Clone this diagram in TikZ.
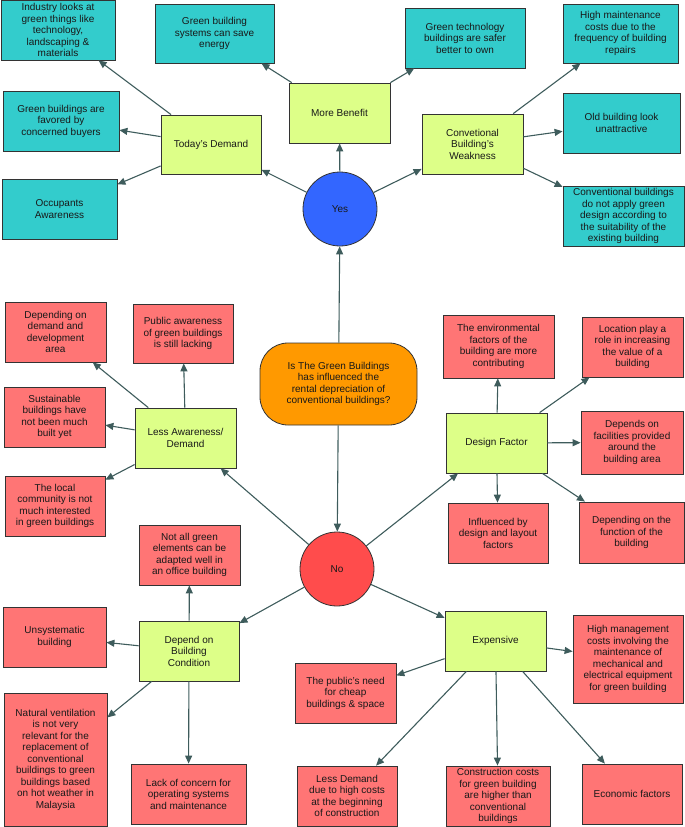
\documentclass[tikz,border=0pt]{standalone}
\usepackage{fontspec}
\setmainfont{Liberation Sans}
\usetikzlibrary{arrows.meta}
\definecolor{tealc}{HTML}{33CCCC}
\definecolor{yelc}{HTML}{DDFF88}
\definecolor{redc}{HTML}{FF7575}
\definecolor{bluec}{HTML}{3366FF}
\definecolor{noc}{HTML}{FF4C4C}
\definecolor{orc}{HTML}{FF9900}
\definecolor{linec}{HTML}{3E5C5C}
\definecolor{bordc}{HTML}{333333}
\tikzset{
  base/.style={draw=bordc, line width=0.8pt, align=center, inner sep=0pt,
    font=\fontsize{10}{11.5}\selectfont, text=black!90},
  tealbox/.style={base, fill=tealc},
  ybox/.style={base, fill=yelc},
  rbox/.style={base, fill=redc},
  circ/.style={base, circle, minimum size=74pt},
  conn/.style={draw=linec, line width=1.1pt, -{Triangle[length=8pt,width=7pt]}},
  sz/.style 2 args={minimum width=#1pt, minimum height=#2pt}
}
\begin{document}
\begin{tikzpicture}[x=1pt,y=-1pt]
\useasboundingbox (0,0) rectangle (685,827);
% Yes branch
\node[tealbox, sz={114}{60}] (ind) at (58,30) {Industry looks at\\green things like\\technology,\\landscaping \&\\materials};
\node[tealbox, sz={119}{59}] (gbs) at (214.5,33.5) {Green building\\systems can save\\energy};
\node[tealbox, sz={116}{60}] (fav) at (61,121) {Green buildings are\\favored by\\concerned buyers};
\node[tealbox, sz={115}{60}] (occ) at (59.5,209) {Occupants\\Awareness};
\node[tealbox, sz={120}{60}] (gt) at (465,38) {Green technology\\buildings are safer\\better to own};
\node[tealbox, sz={115}{59}] (hm) at (620.5,33.5) {High maintenance\\costs due to the\\frequency of building\\repairs};
\node[tealbox, sz={117}{60}] (old) at (621.5,123) {Old building look\\unattractive};
\node[tealbox, sz={121}{60}] (conv) at (623.5,216) {Conventional buildings\\do not apply green\\design according to\\the suitability of the\\existing building};
\node[ybox, sz={100}{59}] (td) at (211,144.5) {Today's Demand};
\node[ybox, sz={101}{60}] (mb) at (339.5,113) {More Benefit};
\node[ybox, sz={101}{60}] (cbw) at (472.5,144) {Convetional\\Building's\\Weakness};
\node[circ, fill=bluec] (yes) at (340,209) {Yes};
% Question
\node[base, fill=orc, rounded corners=28pt, sz={157}{82}] (q) at (338.5,384) {Is The Green Buildings\\has influenced the\\rental depreciation of\\conventional buildings?};
\node[circ, fill=noc] (no) at (337,569) {No};
% No branch
\node[ybox, sz={101}{60}] (la) at (185.5,438) {Less Awareness/\\Demand};
\node[ybox, sz={101}{60}] (df) at (496.5,443) {Design Factor};
\node[ybox, sz={100}{60}] (dbc) at (189,651) {Depend on\\Building\\Condition};
\node[ybox, sz={101}{60}] (exp) at (495.5,641) {Expensive};
\node[rbox, sz={101}{60}] (dda) at (55.5,332) {Depending on\\demand and\\development\\area};
\node[rbox, sz={100}{59}] (pub) at (183,333.5) {Public awareness\\of green buildings\\is still lacking};
\node[rbox, sz={101}{60}] (sus) at (54.5,417) {Sustainable\\buildings have\\not been much\\built yet};
\node[rbox, sz={100}{60}] (loc) at (55,506) {The local\\community is not\\much interested\\in green buildings};
\node[rbox, sz={101}{60}] (nag) at (189.5,555) {Not all green\\elements can be\\adapted well in\\an office building};
\node[rbox, sz={111}{63}] (env) at (498.5,346.5) {The environmental\\factors of the\\building are more\\contributing};
\node[rbox, sz={101}{60}] (lpr) at (632.5,347) {Location play a\\role in increasing\\the value of a\\building};
\node[rbox, sz={102}{63}] (fac) at (632,442.5) {Depends on\\facilities provided\\around the\\building area};
\node[rbox, sz={100}{60}] (inf) at (498,533) {Influenced by\\design and layout\\factors};
\node[rbox, sz={105}{61}] (fun) at (631.5,532.5) {Depending on the\\function of the\\building};
\node[rbox, sz={103}{60}] (uns) at (54.5,637) {Unsystematic\\building};
\node[rbox, sz={103}{133}] (nat) at (55.5,759.5) {Natural ventilation\\is not very\\relevant for the\\replacement of\\conventional\\buildings to green\\buildings based\\on hot weather in\\Malaysia};
\node[rbox, sz={115}{60}] (lack) at (188.5,794) {Lack of concern for\\operating systems\\and maintenance};
\node[rbox, sz={110}{88}] (hmc) at (628,659) {High management\\costs involving the\\maintenance of\\mechanical and\\electrical equipment\\for green building};
\node[rbox, sz={101}{60}] (pn) at (345.5,693) {The public's need\\for cheap\\buildings \& space};
\node[rbox, sz={100}{60}] (ld) at (347,796) {Less Demand\\due to high costs\\at the beginning\\of construction};
\node[rbox, sz={104}{60}] (cc) at (498,796) {Construction costs\\for green building\\are higher than\\conventional\\buildings};
\node[rbox, sz={100}{60}] (eco) at (632,794) {Economic factors};
% connectors
\draw[conn] (q) -- (yes);
\draw[conn] (q) -- (no);
\draw[conn] (yes) -- (td);
\draw[conn] (yes) -- (mb);
\draw[conn] (yes) -- (cbw);
\draw[conn] (td) -- (ind);
\draw[conn] (td) -- (fav);
\draw[conn] (td) -- (occ);
\draw[conn] (mb) -- (gbs);
\draw[conn] (mb) -- (gt);
\draw[conn] (cbw) -- (hm);
\draw[conn] (cbw) -- (old);
\draw[conn] (cbw) -- (conv);
\draw[conn] (no) -- (la);
\draw[conn] (no) -- (df);
\draw[conn] (no) -- (dbc);
\draw[conn] (no) -- (exp);
\draw[conn] (la) -- (dda);
\draw[conn] (la) -- (pub);
\draw[conn] (la) -- (sus);
\draw[conn] (la) -- (loc);
\draw[conn] (df) -- (env);
\draw[conn] (df) -- (lpr);
\draw[conn] (df) -- (fac);
\draw[conn] (df) -- (inf);
\draw[conn] (df) -- (fun);
\draw[conn] (dbc) -- (nag);
\draw[conn] (dbc) -- (uns);
\draw[conn] (dbc) -- (nat);
\draw[conn] (dbc) -- (lack);
\draw[conn] (exp) -- (hmc);
\draw[conn] (exp) -- (pn);
\draw[conn] (exp) -- (ld);
\draw[conn] (exp) -- (cc);
\draw[conn] (exp) -- (eco);
\end{tikzpicture}
\end{document}
